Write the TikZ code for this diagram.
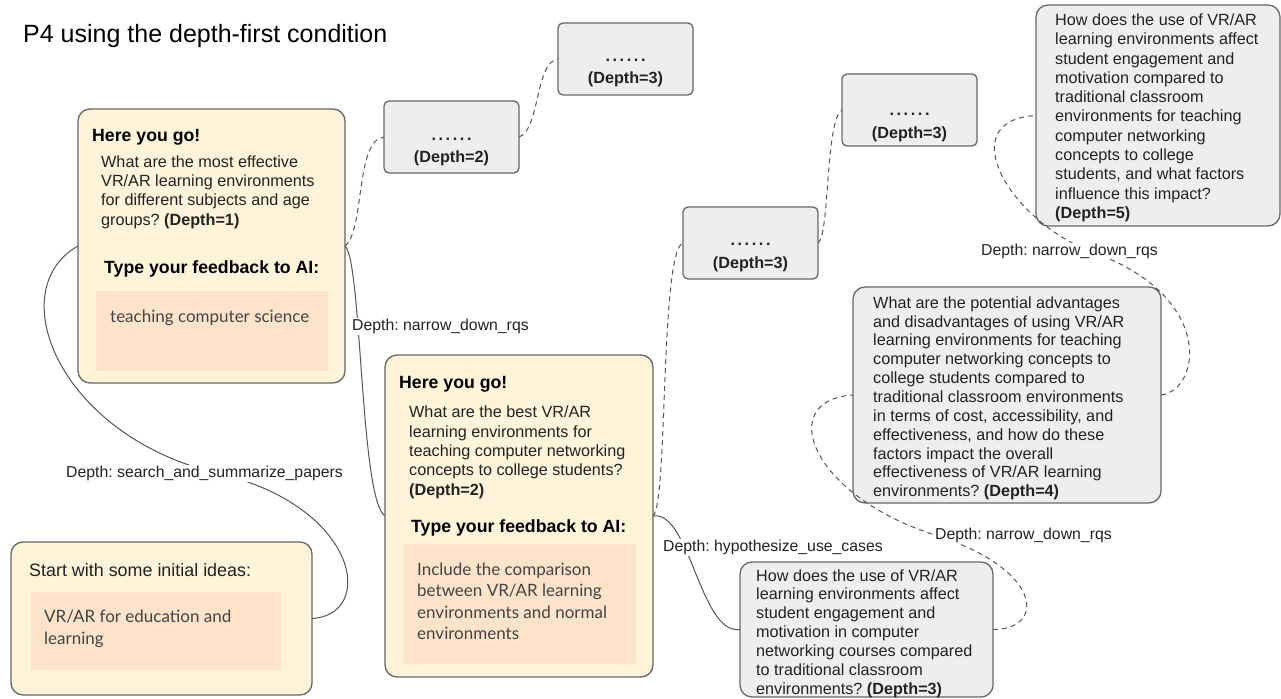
\documentclass[tikz,border=0pt]{standalone}
\usepackage{fontspec}
\setmainfont{Liberation Sans}
\newfontfamily\fbfont{Lato}
\definecolor{cream}{HTML}{FFF3DA}
\definecolor{peach}{HTML}{FCE3CA}
\definecolor{boxgray}{HTML}{EEEEEE}
\definecolor{edge}{HTML}{676767}
\definecolor{ink}{HTML}{222222}
\definecolor{fbink}{HTML}{444444}
\definecolor{wire}{HTML}{555555}
\newcommand{\sixdots}{\textbf{.\hspace{2.6pt}.\hspace{2.6pt}.\hspace{2.6pt}.\hspace{2.6pt}.\hspace{2.6pt}.}}
\newcommand{\mlines}[1]{\begin{tabular}[t]{@{}l@{}}#1\end{tabular}}
\newcommand{\clines}[1]{\begin{tabular}[t]{@{}c@{}}#1\end{tabular}}
\begin{document}
\frenchspacing
\begin{tikzpicture}[x=1pt,y=-1pt,
  box/.style={draw=edge, line width=1.3pt, rounded corners=12pt, inner sep=0pt, outer sep=0pt},
  ybox/.style={box, fill=cream},
  gbox/.style={box, fill=boxgray},
  dbox/.style={box, fill=boxgray, rounded corners=5pt, minimum width=135pt, minimum height=72pt},
  inbox/.style={fill=peach, draw=none, inner sep=0pt, outer sep=0pt},
  txt/.style={anchor=base west, inner sep=0pt, text=ink, font=\fontsize{16.2}{19.4}\selectfont},
  head/.style={anchor=base west, inner sep=0pt, text=black, font=\fontsize{17.7}{20}\selectfont\bfseries},
  fbtxt/.style={anchor=base west, inner sep=0pt, text=fbink, font=\fbfont\fontsize{17}{21.5}\selectfont},
  dtxt/.style={anchor=base, inner sep=0pt, text=ink, font=\fontsize{16.2}{22.5}\selectfont\bfseries},
  lbl/.style={anchor=base west, inner sep=1pt, fill=white, text=ink, font=\fontsize{15.8}{18}\selectfont},
  solidwire/.style={draw=wire, line width=1pt},
  dashwire/.style={solidwire, dash pattern=on 5pt off 4pt}]
\useasboundingbox[fill=white] (0,0) rectangle (1281,698);

% title
\node[anchor=base west, inner sep=0pt, text=black, font=\fontsize{25}{28}\selectfont] (title) at (23,42.3) {P4 using the depth-first condition};

% ---- boxes ----
\node[ybox, minimum width=267pt, minimum height=274pt] (d1) at (211.5,246) {};
\node[inbox, minimum width=232pt, minimum height=80pt] (d1in) at (212,331) {};
\node[ybox, minimum width=268pt, minimum height=322pt] (d2) at (519,516) {};
\node[inbox, minimum width=233pt, minimum height=120pt] (d2in) at (519.5,604) {};
\node[ybox, minimum width=301pt, minimum height=153pt] (start) at (161.5,618.5) {};
\node[inbox, minimum width=250pt, minimum height=78pt] (startin) at (156,631) {};
\node[dbox] (d2a) at (451.5,137) {};
\node[dbox] (d3a) at (625.5,59) {};
\node[dbox] (d3b) at (750.5,243) {};
\node[dbox] (d3c) at (909.5,110) {};
\node[gbox, minimum width=244pt, minimum height=221pt] (d5) at (1158,115.5) {};
\node[gbox, minimum width=308pt, minimum height=216pt] (d4) at (1007,395) {};
\node[gbox, minimum width=253pt, minimum height=135pt] (d3) at (866.5,629.5) {};

% ---- texts in boxes ----
\node[head] (d1h) at (92,142) {Here you go!};
\node[txt] (d1q) at (101,167) {\mlines{What are the most effective\\VR/AR learning environments\\for different subjects and age\\groups? \textbf{(Depth=1)}}};
\node[head] (d1f) at (104,273) {Type your feedback to AI:};
\node[fbtxt] (d1fb) at (110,322) {teaching computer science};

\node[head] (d2h) at (399,388.5) {Here you go!};
\node[txt] (d2q) at (409,417.7) {\mlines{What are the best VR/AR\\learning environments for\\teaching computer networking\\concepts to college students?\\\textbf{(Depth=2)}}};
\node[head] (d2f) at (411,532.7) {Type your feedback to AI:};
\node[fbtxt] (d2fb) at (417,575) {\mlines{Include the comparison\\between VR/AR learning\\environments and normal\\environments}};

\node[anchor=base west, inner sep=0pt, text=ink, font=\fontsize{17.9}{20}\selectfont] (starth) at (29,576.7) {Start with some initial ideas:};
\node[fbtxt] (startfb) at (44,622.7) {\mlines{VR/AR for education and\\learning}};

\node[dtxt] (t2a) at (451.5,140) {\clines{\sixdots\\(Depth=2)}};
\node[dtxt] (t3a) at (625.5,61.5) {\clines{\sixdots\\(Depth=3)}};
\node[dtxt] (t3b) at (750.5,245.5) {\clines{\sixdots\\(Depth=3)}};
\node[dtxt] (t3c) at (909.5,116) {\clines{\sixdots\\(Depth=3)}};

\node[txt, font=\fontsize{16.2}{19.26}\selectfont] (d5t) at (1055,25.7) {\mlines{How does the use of VR/AR\\learning environments affect\\student engagement and\\motivation compared to\\traditional classroom\\environments for teaching\\computer networking\\concepts to college\\students, and what factors\\influence this impact?\\\textbf{(Depth=5)}}};
\node[txt, font=\fontsize{16.2}{18.84}\selectfont] (d4t) at (873,308.3) {\mlines{What are the potential advantages\\and disadvantages of using VR/AR\\learning environments for teaching\\computer networking concepts to\\college students compared to\\traditional classroom environments\\in terms of cost, accessibility, and\\effectiveness, and how do these\\factors impact the overall\\effectiveness of VR/AR learning\\environments? \textbf{(Depth=4)}}};
\node[txt, font=\fontsize{16.2}{18.9}\selectfont] (d3t) at (756,581) {\mlines{How does the use of VR/AR\\learning environments affect\\student engagement and\\motivation in computer\\networking courses compared\\to traditional classroom\\environments? \textbf{(Depth=3)}}};

% ---- connectors ----
\coordinate (m1) at (225,475);
\coordinate (m2) at (935,535);
\coordinate (m3) at (1100,255);
\draw[solidwire] (start.east) .. controls (375,615) and (360,510) .. (m1) .. controls (60,440) and (0,290) .. (d1.west);
\draw[solidwire] (d1.east) .. controls (362,260) and (360,500) .. (d2.west);
\draw[dashwire] (d1.east) .. controls (365,230) and (355,140) .. (d2a.west);
\draw[dashwire] (d2a.east) .. controls (540,130) and (535,62) .. (d3a.west);
\draw[dashwire] (d2.east) .. controls (668,505) and (660,250) .. (d3b.west);
\draw[dashwire] (d3b.east) .. controls (830,235) and (825,120) .. (d3c.west);
\draw[solidwire] (d2.east) .. controls (690,510) and (700,635) .. (d3.west);
\draw[dashwire] (d3.east) .. controls (1045,630) and (1045,570) .. (m2) .. controls (810,495) and (775,400) .. (d4.west);
\draw[dashwire] (d4.east) .. controls (1200,390) and (1215,300) .. (m3) .. controls (1010,225) and (950,120) .. (d5.west);

% ---- connector labels ----
\node[lbl] (l1) at (65,477.7) {Depth: search\_and\_summarize\_papers};
\node[lbl] (l2) at (351,330.7) {Depth: narrow\_down\_rqs};
\node[lbl] (l3) at (662,551.7) {Depth: hypothesize\_use\_cases};
\node[lbl] (l4) at (934,539.3) {Depth: narrow\_down\_rqs};
\node[lbl] (l5) at (980,255) {Depth: narrow\_down\_rqs};
\end{tikzpicture}
\end{document}
